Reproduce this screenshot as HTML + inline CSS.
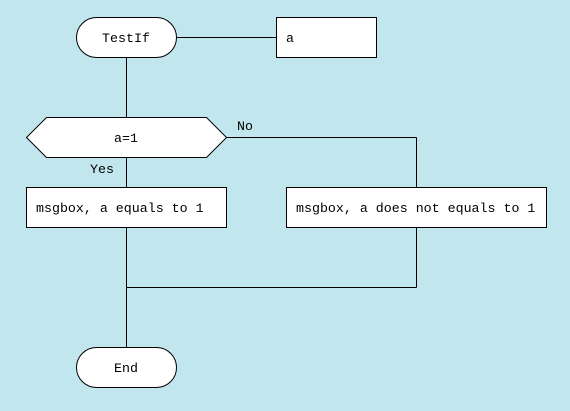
<!DOCTYPE html>
<html><head><meta charset="utf-8"><style>
html,body{margin:0;padding:0;background:#c2e6ee;width:570px;height:411px;overflow:hidden}
text{font-family:"Liberation Mono","DejaVu Sans Mono",monospace;font-size:13.3px;fill:#000}
</style></head><body>
<svg width="570" height="411" xmlns="http://www.w3.org/2000/svg">
<g stroke="#000" stroke-width="1" fill="none" shape-rendering="crispEdges">
<line x1="176" y1="37.5" x2="276" y2="37.5"/>
<line x1="126.5" y1="57" x2="126.5" y2="117"/>
<line x1="126.5" y1="157" x2="126.5" y2="187"/>
<line x1="226" y1="137.5" x2="416.5" y2="137.5"/>
<line x1="416.5" y1="137.5" x2="416.5" y2="187"/>
<line x1="126.5" y1="227" x2="126.5" y2="347"/>
<line x1="416.5" y1="227" x2="416.5" y2="287.5"/>
<line x1="126.5" y1="287.5" x2="416.5" y2="287.5"/>
</g>
<g stroke="#000" stroke-width="1" fill="#fff">
<rect x="76.5" y="17.5" width="100" height="40" rx="20" ry="20"/>
<rect x="276.5" y="17.5" width="100" height="40"/>
<polygon points="26.5,137.5 46.5,117.5 206.5,117.5 226.5,137.5 206.5,157.5 46.5,157.5"/>
<rect x="26.5" y="187.5" width="200" height="40"/>
<rect x="286.5" y="187.5" width="260" height="40"/>
<rect x="76.5" y="347.5" width="100" height="40" rx="20" ry="20"/>
</g>
<text x="126" y="42" text-anchor="middle">TestIf</text>
<text x="286" y="42">a</text>
<text x="126" y="142" text-anchor="middle">a=1</text>
<text x="237" y="130">No</text>
<text x="90" y="173">Yes</text>
<text x="36" y="212">msgbox, a equals to 1</text>
<text x="296" y="212">msgbox, a does not equals to 1</text>
<text x="126" y="372" text-anchor="middle">End</text>
</svg>
</body></html>
